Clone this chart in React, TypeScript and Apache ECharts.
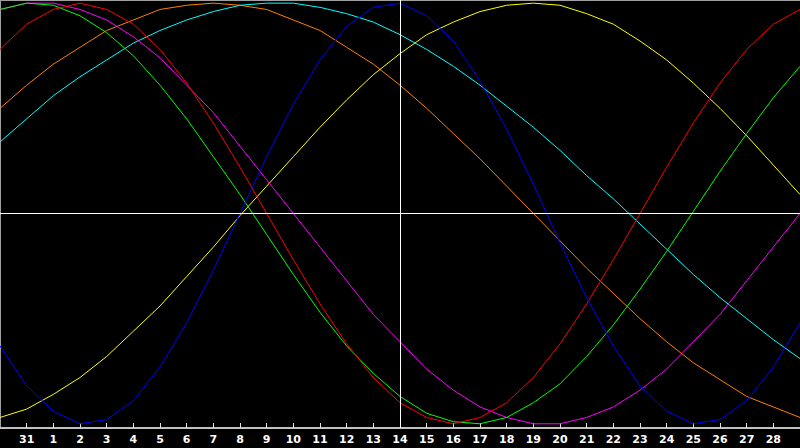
import React, { useEffect, useRef } from 'react'
import * as echarts from 'echarts'

// one point per day, 30 (prev month) .. 29
const days = ['30', '31', '1', '2', '3', '4', '5', '6', '7', '8', '9', '10', '11', '12', '13', '14',
  '15', '16', '17', '18', '19', '20', '21', '22', '23', '24', '25', '26', '27', '28', '29']

const blue = [-63, -82, -94, -100, -98, -89, -73, -52, -27, 0, 27, 52, 73, 89, 98, 100,
  94, 82, 63, 40, 14, -14, -40, -63, -82, -94, -100, -98, -89, -73, -52]
const red = [78, 90, 97, 100, 97, 90, 78, 62, 43, 22, 0, -22, -43, -62, -78, -90,
  -97, -100, -97, -90, -78, -62, -43, -22, 0, 22, 43, 62, 78, 90, 97]
const green = [97, 100, 99, 94, 86, 75, 61, 45, 27, 9, -10, -29, -47, -63, -76, -87,
  -95, -99, -100, -97, -90, -81, -68, -53, -36, -18, 1, 20, 38, 55, 70]
const magenta = [97, 100, 100, 97, 92, 84, 74, 61, 48, 32, 16, 0, -16, -32, -48, -61,
  -74, -84, -92, -97, -100, -100, -97, -92, -84, -74, -61, -48, -32, -16, 0]
const yellow = [-97, -93, -86, -78, -68, -56, -44, -30, -16, -1, 13, 27, 41, 54, 66, 76,
  85, 91, 96, 99, 100, 99, 95, 90, 82, 73, 62, 50, 37, 23, 9]
const orange = [50, 61, 71, 79, 87, 92, 97, 99, 100, 99, 97, 92, 87, 79, 71, 61,
  50, 38, 26, 13, 0, -13, -26, -38, -50, -61, -71, -79, -87, -92, -97]
const cyan = [34, 45, 56, 65, 73, 81, 87, 92, 96, 99, 100, 100, 98, 95, 91, 85,
  78, 70, 61, 51, 41, 30, 18, 7, -5, -17, -29, -40, -50, -60, -69]

const curves = [
  { name: 'orange', data: orange, color: '#ff8000' },
  { name: 'cyan', data: cyan, color: '#00ffff' },
  { name: 'yellow', data: yellow, color: '#ffff00' },
  { name: 'magenta', data: magenta, color: '#ff00ff' },
  { name: 'green', data: green, color: '#00ff00' },
  { name: 'red', data: red, color: '#ff0000' },
  { name: 'blue', data: blue, color: '#0000ff' },
]

const today = '14'

export default function App() {
  const chartRef = useRef<HTMLDivElement>(null)

  useEffect(() => {
    if (!chartRef.current) return
    const chart = echarts.init(chartRef.current, null, { renderer: 'svg' })

    const inner = (index: number) => index > 0 && index < days.length - 1

    const series: any[] = curves.map(c => ({
      name: c.name,
      type: 'line',
      data: c.data,
      smooth: false,
      symbol: 'none',
      lineStyle: { color: c.color, width: 1 },
      itemStyle: { color: c.color },
    }))

    // white cross: today + zero line
    series.push({
      type: 'line',
      data: [],
      z: 5,
      markLine: {
        silent: true,
        symbol: 'none',
        label: { show: false },
        lineStyle: { color: '#ffffff', width: 1, type: 'solid' },
        data: [{ xAxis: today }, { yAxis: 0 }],
      },
    })

    chart.setOption({
      animation: false,
      backgroundColor: '#000000',
      grid: { left: 0, right: 0, top: 0, bottom: 20 },
      xAxis: {
        type: 'category',
        data: days,
        boundaryGap: false,
        axisLine: { onZero: false, lineStyle: { color: '#c0c0c0', width: 2 } },
        axisTick: {
          inside: true,
          length: 5,
          interval: inner,
          lineStyle: { color: '#e0e0e0' },
        },
        axisLabel: {
          interval: inner,
          color: '#ffffff',
          fontWeight: 'bold',
          fontSize: 11,
          fontFamily: 'DejaVu Sans',
          margin: 6,
        },
        splitLine: { show: false },
      },
      yAxis: {
        type: 'value',
        min: -102,
        max: 101.5,
        show: false,
      },
      graphic: [
        { type: 'line', shape: { x1: 0.5, y1: 0, x2: 0.5, y2: 428 }, style: { stroke: '#a0a0a0', lineWidth: 1 } },
        { type: 'line', shape: { x1: 0, y1: 0.5, x2: 800, y2: 0.5 }, style: { stroke: '#a0a0a0', lineWidth: 1 } },
      ],
      series,
    })

    return () => {
      chart.dispose()
    }
  }, [])

  return (
    <div
      ref={chartRef}
      style={{ position: 'fixed', left: 0, top: 0, width: 800, height: 448 }}
    />
  )
}
